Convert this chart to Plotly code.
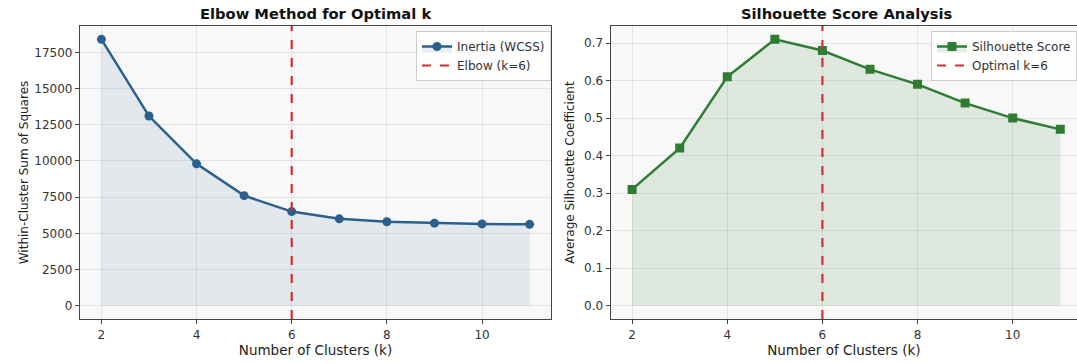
import plotly.graph_objects as go

# Cluster counts evaluated
k_values = [2, 3, 4, 5, 6, 7, 8, 9, 10, 11]
# Within-cluster sum of squares for each k
inertia = [18400, 13100, 9800, 7600, 6500, 6000, 5800, 5700, 5650, 5620]
# Average silhouette coefficient for each k
silhouette = [0.31, 0.42, 0.61, 0.71, 0.68, 0.63, 0.59, 0.54, 0.50, 0.47]
# Chosen number of clusters
optimal_k = 6

left_ticks = [0, 2500, 5000, 7500, 10000, 12500, 15000, 17500]
right_ticks = [0.0, 0.1, 0.2, 0.3, 0.4, 0.5, 0.6, 0.7]
x_ticks = [2, 4, 6, 8, 10]

BLUE = "#2b5f8e"
GREEN = "#2e7d32"
RED = "#d32f2f"
FONT = "DejaVu Sans"


def padded(lo, hi, frac=0.05):
    span = hi - lo
    return [lo - frac * span, hi + frac * span]


x_range = padded(min(k_values), max(k_values))
y1_range = padded(0, max(inertia))
y2_range = padded(0, max(silhouette))

fig = go.Figure()

# Elbow curve
fig.add_trace(go.Scatter(
    x=k_values, y=inertia, mode="lines+markers", name="Inertia (WCSS)",
    line=dict(color=BLUE, width=2.5), marker=dict(symbol="circle", size=9, color=BLUE),
    fill="tozeroy", fillcolor="rgba(43,95,142,0.10)",
    xaxis="x", yaxis="y", legend="legend",
))
fig.add_trace(go.Scatter(
    x=[optimal_k, optimal_k], y=y1_range, mode="lines", name=f"Elbow (k={optimal_k})",
    line=dict(color=RED, width=2.2, dash="dash"),
    xaxis="x", yaxis="y", legend="legend",
))

# Silhouette curve
fig.add_trace(go.Scatter(
    x=k_values, y=silhouette, mode="lines+markers", name="Silhouette Score",
    line=dict(color=GREEN, width=2.5), marker=dict(symbol="square", size=9, color=GREEN),
    fill="tozeroy", fillcolor="rgba(46,125,50,0.12)",
    xaxis="x2", yaxis="y2", legend="legend2",
))
fig.add_trace(go.Scatter(
    x=[optimal_k, optimal_k], y=y2_range, mode="lines", name=f"Optimal k={optimal_k}",
    line=dict(color=RED, width=2.2, dash="dash"),
    xaxis="x2", yaxis="y2", legend="legend2",
))

W, H = 1077, 363
left_dom = [80 / W, 551 / W]
right_dom = [610.7 / W, 1.0]
y_dom = [(H - 319) / H, (H - 26) / H]

# Right panel runs past the page edge; trim its visible range accordingly
px_per_unit = (left_dom[1] - left_dom[0]) * W / (x_range[1] - x_range[0])
x2_range = [x_range[0], x_range[0] + (right_dom[1] - right_dom[0]) * W / px_per_unit]

axis_common = dict(
    showgrid=True, gridcolor="rgba(0,0,0,0.08)", gridwidth=1,
    zeroline=False, showline=True, linecolor="#444", linewidth=1.2,
    ticks="outside", ticklen=4, tickcolor="#444", tickwidth=1,
    tickfont=dict(family=FONT, size=12, color="#333"),
)
xtitle_font = dict(family=FONT, size=13.5, color="#222")
ytitle_font = dict(family=FONT, size=12, color="#222")
legend_font = dict(family=FONT, size=12, color="#333")

fig.update_layout(
    width=W, height=H,
    margin=dict(l=0, r=0, t=0, b=0),
    paper_bgcolor="white",
    plot_bgcolor="#f8f8f8",
    font=dict(family=FONT),
    xaxis=dict(domain=left_dom, range=x_range, tickvals=x_ticks, anchor="y", mirror=True,
               title=dict(text="Number of Clusters (k)", font=xtitle_font, standoff=5), **axis_common),
    yaxis=dict(domain=y_dom, range=y1_range, tickvals=left_ticks, tickformat="d", anchor="x", mirror=True,
               title=dict(text="Within-Cluster Sum of Squares", font=ytitle_font, standoff=3), **axis_common),
    xaxis2=dict(domain=right_dom, range=x2_range, tickvals=x_ticks, anchor="y2", mirror=True,
                title=dict(text="Number of Clusters (k)", font=xtitle_font, standoff=5), **axis_common),
    yaxis2=dict(domain=y_dom, range=y2_range, tickvals=right_ticks, tickformat=".1f", anchor="x2",
                title=dict(text="Average Silhouette Coefficient", font=ytitle_font, standoff=6), **axis_common),
    legend=dict(x=551 / W, y=(H - 31) / H, xanchor="right", yanchor="top",
                bgcolor="rgba(255,255,255,0.85)", bordercolor="#cccccc", borderwidth=1,
                font=legend_font, tracegroupgap=0, itemwidth=30),
    legend2=dict(x=1.0, y=(H - 31) / H, xanchor="right", yanchor="top",
                 bgcolor="rgba(255,255,255,0.85)", bordercolor="#cccccc", borderwidth=1,
                 font=legend_font, tracegroupgap=0, itemwidth=30),
    annotations=[
        dict(text="<b>Elbow Method for Optimal k</b>", xref="paper", yref="paper",
             x=(left_dom[0] + left_dom[1]) / 2, y=(H - 13) / H, xanchor="center", yanchor="middle",
             showarrow=False, font=dict(family=FONT, size=14.7, color="#111")),
        dict(text="<b>Silhouette Score Analysis</b>", xref="paper", yref="paper",
             x=(right_dom[0] + 1084 / W) / 2, y=(H - 13) / H, xanchor="center", yanchor="middle",
             showarrow=False, font=dict(family=FONT, size=14.7, color="#111")),
    ],
)

fig.write_html("out.html")
